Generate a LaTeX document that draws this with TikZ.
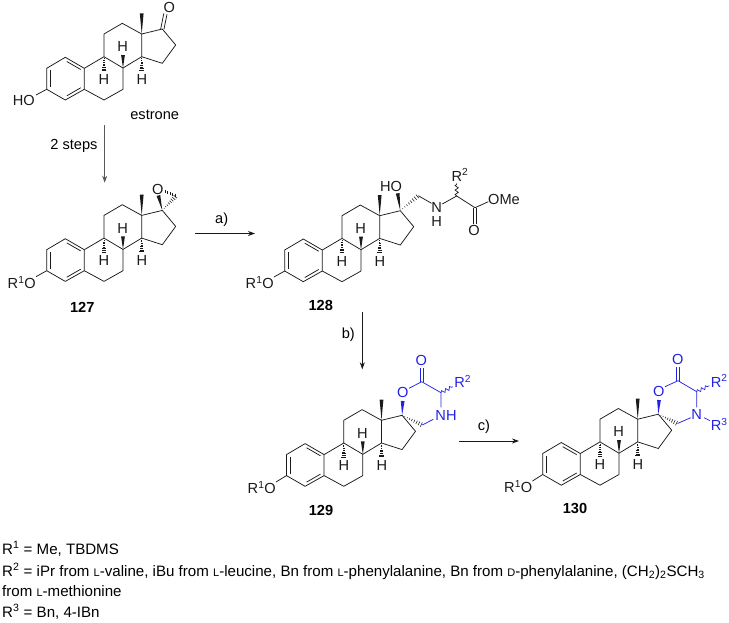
\documentclass[tikz,border=0pt]{standalone}
\usepackage{fontspec}
\setmainfont{Liberation Sans}
\usetikzlibrary{arrows.meta}
\usetikzlibrary{calc}
\usetikzlibrary{decorations.pathmorphing}
\definecolor{inkblack}{HTML}{1A1A1A}
\definecolor{inkblue}{HTML}{2222E6}
\newcommand{\wedgebond}[3][inkblack]{\fill[#1] (#2) -- ($(#3)!1.9pt!90:(#2)$) -- ($(#3)!1.9pt!-90:(#2)$) -- cycle;}
\newcommand{\hashbond}[3][inkblack]{\foreach \t in {0.14,0.26,...,1.0} {\draw[#1,line width=0.55pt] ($(#2)!\t*0.97!(#3)!\t*2.4pt!90:(#3)$) -- ($(#2)!\t*0.97!(#3)!\t*2.4pt!-90:(#3)$);}}
\newcommand{\lsmall}[1]{{\fontsize{11}{12}\selectfont #1}}
\tikzset{
    bond/.style={line width=0.75pt,inkblack},
    bluebond/.style={line width=0.75pt,inkblue},
    wavybond/.style={line width=0.7pt,decorate,decoration={snake,amplitude=1.6pt,segment length=4.5pt}},
    atom/.style={inner sep=0pt,font=\fontsize{14.6}{16}\selectfont,inkblack},
    blueatom/.style={atom,text=inkblue},
    caption/.style={inner sep=0pt,font=\fontsize{14.6}{16}\selectfont\bfseries},
    rxnlabel/.style={inner sep=0pt,font=\fontsize{14.6}{16}\selectfont},
    rxnarrow/.style={line width=0.75pt,-{Stealth[length=7pt,width=5pt]}},
    footline/.style={inner sep=0pt,anchor=base west,font=\fontsize{15.1}{16}\selectfont},
    steroid/.pic={
        \coordinate (-c1) at (65.3,57.3);
        \coordinate (-c2) at (46.7,68.3);
        \coordinate (-c3) at (46.7,89.3);
        \coordinate (-c4) at (65.3,100);
        \coordinate (-c5) at (84.3,89.3);
        \coordinate (-c6) at (104,100);
        \coordinate (-c7) at (123,89.3);
        \coordinate (-c8) at (123,68);
        \coordinate (-c9) at (104,56.7);
        \coordinate (-c10) at (84.3,68.3);
        \coordinate (-c11) at (104,34);
        \coordinate (-c12) at (122.3,23.3);
        \coordinate (-c13) at (141.7,34);
        \coordinate (-c14) at (141.7,56.7);
        \coordinate (-c15) at (162.3,63.3);
        \coordinate (-c16) at (175.7,45);
        \coordinate (-c17) at (162.3,29);
        \coordinate (-me) at (141.7,13.3);
        % Ringe
        \draw[bond,line join=round] (-c1) -- (-c2) -- (-c3) -- (-c4) -- (-c5) -- (-c10) -- cycle;
        \draw[bond,line join=round] (-c5) -- (-c6) -- (-c7) -- (-c8) -- (-c9) -- (-c10);
        \draw[bond,line join=round] (-c9) -- (-c11) -- (-c12) -- (-c13) -- (-c14) -- (-c8);
        \draw[bond,line join=round] (-c13) -- (-c17) -- (-c16) -- (-c15) -- (-c14);
        \draw[bond] (50.7,70.3) -- (50.7,87.3);
        \draw[bond] (66.8,61.5) -- (80.7,69.5);
        \draw[bond] (66.8,95.8) -- (80.7,87.8);
        % Stereo
        \wedgebond{-c13}{-me}
        \wedgebond{-c8}{123,55}
        \hashbond{-c9}{104,71.5}
        \hashbond{-c14}{141.7,71}
        \node[atom] (-h8) at (122.6,46.7) {H};
        \node[atom] (-h9) at (104,79.3) {H};
        \node[atom] (-h14) at (142,79.3) {H};
    }
}
\begin{document}
\begin{tikzpicture}[x=1pt,y=-1pt]
    \useasboundingbox (0,0) rectangle (729,622);

    % Estron
    \pic (est) at (0,0) {steroid};
    \draw[bond] ($(est-c17)+(-1.6,0)$) -- (163.8,13.5);
    \draw[bond] ($(est-c17)+(1.6,0.4)$) -- (167.0,14.3);
    \node[atom] (estO) at (169.3,7.3) {O};
    \draw[bond] (est-c3) -- (36,95);
    \node[atom,anchor=east] (estHO) at (35,100.7) {HO};
    \node[rxnlabel] (estname) at (154.7,115) {estrone};

    % 127
    \pic (a) at (0,181.4) {steroid};
    \draw[bond] (a-c3) -- (36,276.7);
    \node[atom,anchor=east] (aRO) at (36,282.5) {R\textsuperscript{1}O};
    \coordinate (aC) at (176,196);
    \node[atom] (aO) at (157.7,189) {O};
    \wedgebond{a-c17}{158.4,195.5}
    \hashbond{a-c17}{aC}
    \foreach \t in {0.1,0.3,...,1.0} {\draw[bond,line width=0.55pt] ($(164,191)!\t!(aC)+(0,-1.6)$) -- ($(164,191)!\t!(aC)+(0,1.6)$);}
    \node[caption] (lbla) at (82.3,307.3) {127};

    % 128
    \pic (b) at (238,181.7) {steroid};
    \draw[bond] (b-c3) -- (274,277);
    \node[atom,anchor=east] (bRO) at (274,282.5) {R\textsuperscript{1}O};
    \node[atom] (bHO) at (391,186.7) {HO};
    \wedgebond{b-c17}{397.7,193.3}
    \coordinate (bCH2) at (418.3,195.7);
    \hashbond{b-c17}{bCH2}
    \node[atom] (bN) at (436.7,207.5) {N};
    \node[atom] (bH) at (436.7,221.5) {H};
    \coordinate (bCH) at (456.7,196);
    \coordinate (bCO) at (475,207.7);
    \draw[bond] (bCH2) -- (431.5,203.3);
    \draw[bond] (442.3,204) -- (bCH) -- (bCO) -- (488.3,201.7);
    \draw[bond] (473.2,208) -- (473.2,224);
    \draw[bond] (476.7,208) -- (476.7,224);
    \node[atom] (bO) at (474,230.7) {O};
    \node[atom] (bOMe) at (504,199) {OMe};
    \node[atom] (bR) at (460,175) {R\textsuperscript{2}};
    \draw[bond,wavybond] (bCH) -- (456.7,183.3);
    \node[caption] (lblb) at (320.7,305) {128};

    % 129
    \pic (c) at (239.8,386.3) {steroid};
    \draw[bond] (c-c3) -- (276,482);
    \node[atom,anchor=east] (cRO) at (276,487.5) {R\textsuperscript{1}O};
    \node[blueatom] (cO1) at (402.7,392.7) {O};
    \wedgebond[inkblue]{c-c17}{402.7,401}
    \coordinate (cCO) at (421.7,381.7);
    \coordinate (cCH) at (441,392.7);
    \coordinate (cCH2) at (422.3,425);
    \draw[bluebond] (409,388.3) -- (cCO) -- (cCH) -- (441,407.3);
    \draw[bluebond] (420,382) -- (420,368);
    \draw[bluebond] (423.4,382) -- (423.4,368);
    \node[blueatom] (cO2) at (421.3,360) {O};
    \draw[bluebond,wavybond] (cCH) -- (452.7,386.7);
    \node[blueatom] (cR) at (462.7,381.7) {R\textsuperscript{2}};
    \node[blueatom] (cNH) at (446,415) {NH};
    \draw[bluebond] (433.3,419.3) -- (cCH2);
    \hashbond{c-c17}{cCH2}
    \node[caption] (lblc) at (321,510) {129};

    % 130
    \pic (d) at (496,385.2) {steroid};
    \draw[bond] (d-c3) -- (532.5,481);
    \node[atom,anchor=east] (dRO) at (532.5,486.5) {R\textsuperscript{1}O};
    \node[blueatom] (dO1) at (658.7,391) {O};
    \wedgebond[inkblue]{d-c17}{659,400}
    \coordinate (dCO) at (678,380.7);
    \coordinate (dCH) at (696.7,391.7);
    \coordinate (dCH2) at (677.5,423.5);
    \draw[bluebond] (665,386.7) -- (dCO) -- (dCH) -- (696.7,407.3);
    \draw[bluebond] (676.3,381) -- (676.3,367);
    \draw[bluebond] (679.7,381) -- (679.7,367);
    \node[blueatom] (dO2) at (677.7,359.3) {O};
    \draw[bluebond,wavybond] (dCH) -- (709.3,385.7);
    \node[blueatom] (dR2) at (719.3,381) {R\textsuperscript{2}};
    \node[blueatom] (dN) at (696.7,414.3) {N};
    \draw[bluebond] (690.7,417.7) -- (dCH2);
    \draw[bluebond] (704,417.7) -- (710,420.7);
    \node[blueatom] (dR3) at (719.3,424.3) {R\textsuperscript{3}};
    \hashbond{d-c17}{dCH2}
    \node[caption] (lbld) at (575,508) {130};

    % Pfeile
    \coordinate (s1) at (104.7,125);
    \coordinate (e1) at (104.7,182.7);
    \coordinate (s2) at (195,233.5);
    \coordinate (e2) at (255,233.5);
    \coordinate (s3) at (362.3,311.7);
    \coordinate (e3) at (362.3,369.3);
    \coordinate (s4) at (459.3,441);
    \coordinate (e4) at (519,441);
    \draw[rxnarrow,color=black!65] (s1) -- (e1);
    \draw[rxnarrow,color=inkblack] (s2) -- (e2);
    \draw[rxnarrow,color=inkblack] (s3) -- (e3);
    \draw[rxnarrow,color=inkblack] (s4) -- (e4);
    \node[rxnlabel] (lsteps) at (74,146) {2 steps};
    \node[rxnlabel] (la) at (221.7,220) {a)};
    \node[rxnlabel] (lb) at (348.3,335) {b)};
    \node[rxnlabel] (lc) at (484,426.7) {c)};

    % Legende
    \node[footline] (r1) at (2,554) {R\textsuperscript{1} = Me, TBDMS};
    \node[footline] (r2) at (2,576) {R\textsuperscript{2} = iPr from \lsmall{L}-valine, iBu from \lsmall{L}-leucine, Bn from \lsmall{L}-phenylalanine, Bn from \lsmall{D}-phenylalanine, (CH\textsubscript{2})\textsubscript{2}SCH\textsubscript{3}};
    \node[footline] (r2b) at (2,596) {from \lsmall{L}-methionine};
    \node[footline] (r3) at (2,617) {R\textsuperscript{3} = Bn, 4-IBn};
\end{tikzpicture}
\end{document}
